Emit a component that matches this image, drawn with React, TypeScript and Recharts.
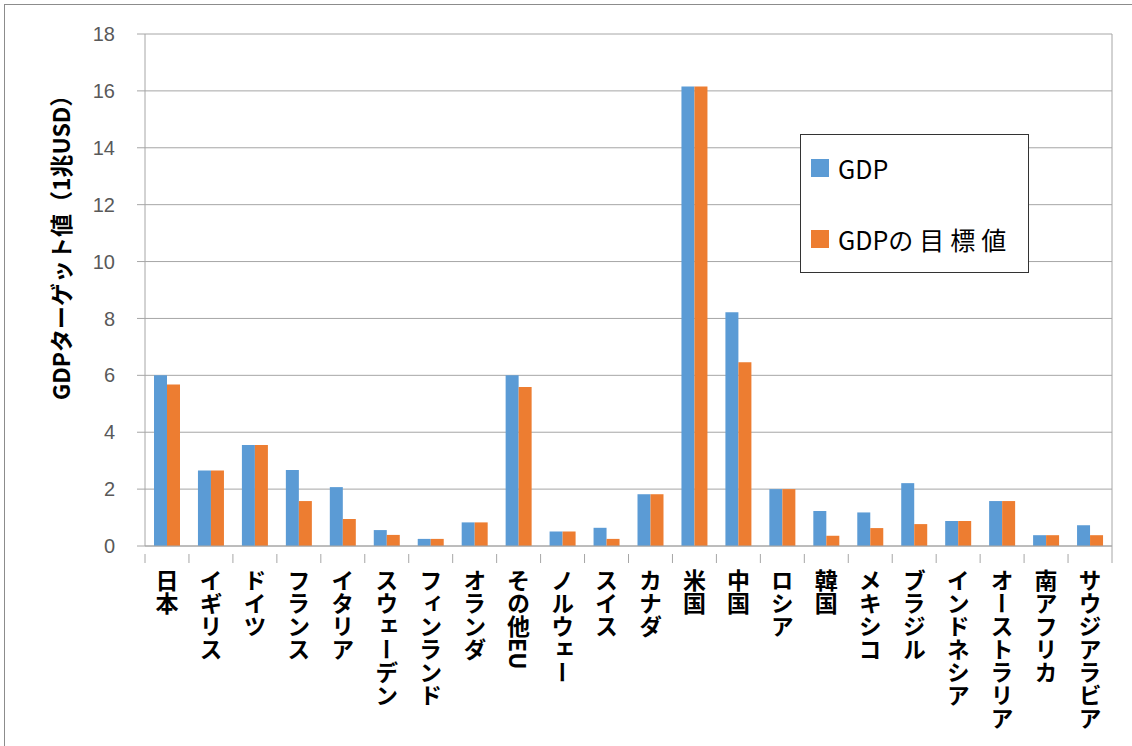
import React from "react";
import {
  BarChart,
  Bar,
  XAxis,
  YAxis,
  CartesianGrid,
} from "recharts";

const categories = [
  "日本",
  "イギリス",
  "ドイツ",
  "フランス",
  "イタリア",
  "スウェーデン",
  "フィンランド",
  "オランダ",
  "その他EU",
  "ノルウェー",
  "スイス",
  "カナダ",
  "米国",
  "中国",
  "ロシア",
  "韓国",
  "メキシコ",
  "ブラジル",
  "インドネシア",
  "オーストラリア",
  "南アフリカ",
  "サウジアラビア",
];

const gdp = [
  6.0, 2.65, 3.55, 2.67, 2.07, 0.56, 0.25, 0.83, 6.0, 0.51, 0.64, 1.82, 16.15,
  8.22, 2.0, 1.23, 1.18, 2.21, 0.88, 1.58, 0.38, 0.73,
];

const target = [
  5.68, 2.65, 3.55, 1.58, 0.95, 0.39, 0.25, 0.83, 5.59, 0.51, 0.25, 1.82, 16.15,
  6.46, 2.0, 0.36, 0.63, 0.77, 0.88, 1.58, 0.38, 0.38,
];

const yTicks = [0, 2, 4, 6, 8, 10, 12, 14, 16, 18];

const data = categories.map((name, i) => ({ name, gdp: gdp[i], target: target[i] }));

const W = 1132;
const H = 746;
const PLOT_LEFT = 145;
const PLOT_RIGHT = 1112;
const PLOT_TOP = 34;
const PLOT_BOTTOM = 546;
const BAND = (PLOT_RIGHT - PLOT_LEFT) / categories.length;

const BLUE = "#5B9BD5";
const ORANGE = "#ED7D31";
const GRID = "#a6a6a6";
const JP = "'Noto Sans CJK JP', sans-serif";

function CategoryTick(props: any) {
  const { x, y, payload, index } = props;
  const isLast = index === categories.length - 1;
  return (
    <g>
      <line x1={x - BAND / 2} y1={y} x2={x - BAND / 2} y2={y + 9} stroke={GRID} />
      {isLast && (
        <line x1={x + BAND / 2} y1={PLOT_TOP} x2={x + BAND / 2} y2={y + 9} stroke={GRID} />
      )}
      <text
        x={x}
        y={y + 15}
        style={{ writingMode: "vertical-rl" }}
        fontSize={23}
        fontWeight="bold"
        fill="#000"
        fontFamily={JP}
      >
        {payload.value}
      </text>
    </g>
  );
}

function YLabel() {
  return (
    <text
      x={60}
      y={242}
      transform="rotate(-90 60 242)"
      textAnchor="middle"
      dominantBaseline="central"
      fontSize={23}
      fontWeight="bold"
      fill="#000"
      fontFamily={JP}
    >
      GDPターゲット値（1兆USD）
    </text>
  );
}

// legend box drawn over the plot, as in the original
function LegendBox() {
  const row = (color: string, label: string, suffix: string) => (
    <div style={{ display: "flex", alignItems: "center", height: 36 }}>
      <span style={{ width: 18, height: 18, background: color, marginRight: 9 }} />
      <span style={{ fontSize: 25, color: "#000", fontFamily: JP, whiteSpace: "nowrap" }}>
        {label}
        {suffix && <span style={{ letterSpacing: 6 }}>{suffix}</span>}
      </span>
    </div>
  );
  return (
    <div
      style={{
        position: "absolute",
        left: 800,
        top: 134,
        width: 229,
        height: 139,
        boxSizing: "border-box",
        border: "1px solid #333",
        background: "#fff",
        padding: "15px 0 0 10px",
        display: "flex",
        flexDirection: "column",
        gap: 35,
      }}
    >
      {row(BLUE, "GDP", "")}
      {row(ORANGE, "GDP", "の目標値")}
    </div>
  );
}

export default function App() {
  return (
    <div style={{ position: "fixed", left: 0, top: 0, width: W, height: H, background: "#fff" }}>
      <div
        style={{
          position: "absolute",
          left: 4,
          top: 4,
          width: W,
          height: H,
          borderTop: "1px solid #8c8c8c",
          borderLeft: "1px solid #8c8c8c",
        }}
      />
      <BarChart
        width={W}
        height={H}
        data={data}
        margin={{ top: PLOT_TOP, right: W - PLOT_RIGHT, left: 0, bottom: 0 }}
        barCategoryGap={9}
        barGap={0}
      >
        <CartesianGrid vertical={false} stroke={GRID} />
        <XAxis
          dataKey="name"
          interval={0}
          height={H - PLOT_BOTTOM}
          axisLine={{ stroke: GRID }}
          tickLine={false}
          tick={<CategoryTick />}
        />
        <YAxis
          width={PLOT_LEFT}
          domain={[0, 18]}
          ticks={yTicks}
          interval={0}
          tickSize={8}
          tickMargin={22}
          axisLine={{ stroke: GRID }}
          tickLine={{ stroke: GRID }}
          tick={{ fontSize: 20, fill: "#595959", fontFamily: "'Liberation Sans', Arial, sans-serif" }}
          label={<YLabel />}
        />
        <Bar dataKey="gdp" name="GDP" fill={BLUE} isAnimationActive={false} />
        <Bar dataKey="target" name="GDPの目標値" fill={ORANGE} isAnimationActive={false} />
      </BarChart>
      <LegendBox />
    </div>
  );
}
